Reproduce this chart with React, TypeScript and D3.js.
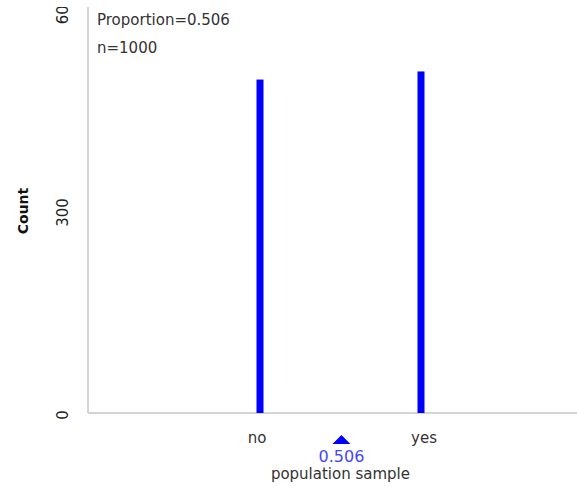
import React from "react";
import * as d3 from "d3";

const categories = ["no", "yes"];
const counts = [494, 506];
const proportion = 0.506;
const sampleSize = 1000;
const yTicks = [0, 300, 600];

export default function App() {
  const W = 577, H = 487;
  const y = d3.scaleLinear().domain([0, 600]).range([413, 8]);
  const x = d3.scalePoint<string>().domain(categories).range([260, 421]);
  const xp = d3.scaleLinear().domain([0, 1]).range([x("no")!, x("yes")!]);
  const font = "'DejaVu Sans', Verdana, sans-serif";
  const px = xp(proportion);
  const labelShift = [-3, 3];
  return (
    <svg width={W} height={H} style={{ position: "absolute", left: 0, top: 0 }} fontFamily={font}>
      <defs>
        <clipPath id="tickclip">
          <rect x={0} y={7} width={W} height={H} />
        </clipPath>
      </defs>
      <rect width={W} height={H} fill="#fff" />
      <line x1={88} x2={88} y1={7} y2={413} stroke="#d4d4d4" strokeWidth={2} />
      <line x1={88} x2={W} y1={413} y2={413} stroke="#d4d4d4" strokeWidth={2} />
      <g clipPath="url(#tickclip)">
        {yTicks.map((t) => (
          <text key={t} transform={`translate(68,${y(t) + 2}) rotate(-90)`} textAnchor="middle" fontSize={15} fill="#222">
            {t}
          </text>
        ))}
      </g>
      <text transform={`translate(28,211) rotate(-90)`} textAnchor="middle" fontSize={14} fill="#111" fontWeight="bold">
        Count
      </text>
      {categories.map((c, i) => (
        <g key={c}>
          <rect x={x(c)! - 3.5} width={7} y={y(counts[i])} height={y(0) - y(counts[i])} fill="#0000ff" />
          <text x={x(c)! + labelShift[i]} y={443} textAnchor="middle" fontSize={15} fill="#333">{c}</text>
        </g>
      ))}
      <path d={`M${px - 9},${444}L${px + 9},${444}L${px},${435}Z`} fill="#0000ff" />
      <text x={px} y={462} textAnchor="middle" fontSize={16} fill="#4646ff">{proportion.toFixed(3)}</text>
      <text x={px - 1} y={479} textAnchor="middle" fontSize={15} fill="#333">population sample</text>
      <text x={97} y={25} fontSize={15} fill="#333">Proportion={proportion.toFixed(3)}</text>
      <text x={97} y={53} fontSize={15} fill="#333">n={sampleSize}</text>
    </svg>
  );
}
